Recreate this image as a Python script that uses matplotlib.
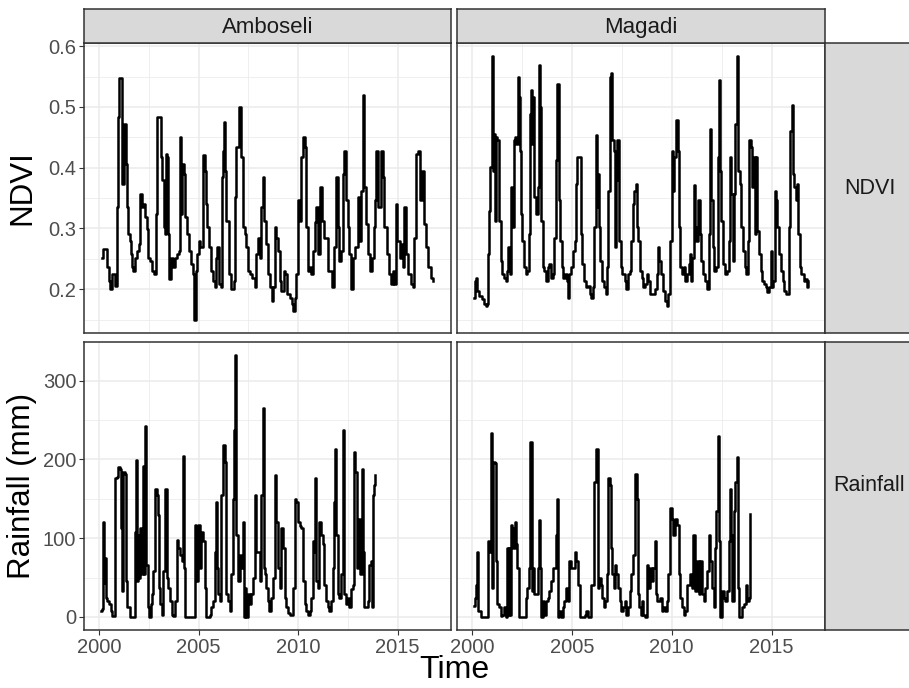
import matplotlib
matplotlib.use("Agg")
import matplotlib.pyplot as plt
import numpy as np
from matplotlib.ticker import FixedLocator

plt.rcParams['font.family'] = ['Liberation Sans', 'DejaVu Sans']

# ---------------------------------------------------------------- data
sites = ["Amboseli", "Magadi"]
variables = ["NDVI", "Rainfall"]
y_titles = ["NDVI", "Rainfall (mm)"]

x_ticks = [2000, 2005, 2010, 2015]
x_minor = [2002.5, 2007.5, 2012.5]
ndvi_ticks = [0.2, 0.3, 0.4, 0.5, 0.6]
ndvi_minor = [0.15, 0.25, 0.35, 0.45, 0.55]
rain_ticks = [0, 100, 200, 300]
rain_minor = [50, 150, 250]

amboseli_ndvi_time = [
    2000.13, 2000.18, 2000.35, 2000.42, 2000.52, 2000.55, 2000.63, 2000.80, 2000.89, 2000.94,
    2001.00, 2001.14, 2001.17, 2001.27, 2001.35, 2001.39, 2001.47, 2001.55, 2001.59, 2001.67,
    2001.72, 2001.80, 2001.92, 2002.02, 2002.05, 2002.14, 2002.22, 2002.30, 2002.39, 2002.47,
    2002.55, 2002.64, 2002.76, 2002.86, 2002.92, 2003.06, 2003.09, 2003.17, 2003.26, 2003.31,
    2003.36, 2003.42, 2003.46, 2003.52, 2003.59, 2003.72, 2003.81, 2003.92, 2004.01, 2004.06,
    2004.09, 2004.14, 2004.26, 2004.31, 2004.42, 2004.52, 2004.64, 2004.73, 2004.78, 2004.86,
    2004.94, 2005.03, 2005.09, 2005.23, 2005.31, 2005.36, 2005.43, 2005.53, 2005.64, 2005.73,
    2005.81, 2005.86, 2005.93, 2006.03, 2006.11, 2006.18, 2006.23, 2006.28, 2006.34, 2006.39,
    2006.51, 2006.64, 2006.76, 2006.85, 2006.90, 2007.01, 2007.10, 2007.15, 2007.23, 2007.31,
    2007.40, 2007.48, 2007.56, 2007.70, 2007.81, 2007.90, 2008.00, 2008.06, 2008.15, 2008.23,
    2008.28, 2008.36, 2008.48, 2008.60, 2008.68, 2008.73, 2008.82, 2008.90, 2008.98, 2009.07,
    2009.15, 2009.27, 2009.35, 2009.43, 2009.57, 2009.68, 2009.73, 2009.82, 2009.90, 2009.98,
    2010.07, 2010.15, 2010.23, 2010.32, 2010.40, 2010.48, 2010.57, 2010.65, 2010.74, 2010.84,
    2010.90, 2010.99, 2011.10, 2011.20, 2011.32, 2011.49, 2011.69, 2011.82, 2011.90, 2011.99,
    2012.07, 2012.15, 2012.24, 2012.32, 2012.40, 2012.49, 2012.57, 2012.65, 2012.74, 2012.87,
    2012.99, 2013.04, 2013.16, 2013.24, 2013.32, 2013.41, 2013.49, 2013.61, 2013.71, 2013.79,
    2013.86, 2013.91, 2013.99, 2014.16, 2014.24, 2014.32, 2014.44, 2014.57, 2014.66, 2014.74,
    2014.83, 2014.91, 2014.99, 2015.11, 2015.21, 2015.28, 2015.33, 2015.41, 2015.54, 2015.66,
    2015.78, 2015.83, 2015.91, 2016.03, 2016.11, 2016.24, 2016.33, 2016.44, 2016.54, 2016.66,
    2016.78,
]
amboseli_ndvi = [
    0.252, 0.266, 0.266, 0.236, 0.214, 0.200, 0.225, 0.206, 0.335, 0.483,
    0.547, 0.547, 0.373, 0.472, 0.406, 0.335, 0.291, 0.280, 0.258, 0.236,
    0.230, 0.252, 0.263, 0.274, 0.357, 0.335, 0.340, 0.318, 0.299, 0.252,
    0.247, 0.230, 0.225, 0.324, 0.483, 0.483, 0.417, 0.379, 0.302, 0.291,
    0.423, 0.417, 0.291, 0.217, 0.252, 0.236, 0.252, 0.258, 0.263, 0.450,
    0.324, 0.406, 0.390, 0.318, 0.291, 0.263, 0.241, 0.225, 0.150, 0.230,
    0.258, 0.280, 0.269, 0.420, 0.395, 0.340, 0.302, 0.269, 0.230, 0.214,
    0.203, 0.252, 0.269, 0.208, 0.203, 0.384, 0.428, 0.475, 0.395, 0.313,
    0.225, 0.200, 0.214, 0.351, 0.434, 0.500, 0.500, 0.417, 0.302, 0.291,
    0.269, 0.230, 0.225, 0.219, 0.203, 0.258, 0.285, 0.252, 0.335, 0.384,
    0.313, 0.274, 0.225, 0.203, 0.181, 0.203, 0.302, 0.285, 0.263, 0.214,
    0.197, 0.230, 0.225, 0.192, 0.186, 0.175, 0.164, 0.186, 0.225, 0.346,
    0.313, 0.417, 0.450, 0.434, 0.302, 0.230, 0.236, 0.225, 0.263, 0.310,
    0.335, 0.258, 0.368, 0.313, 0.285, 0.230, 0.203, 0.269, 0.384, 0.302,
    0.247, 0.263, 0.390, 0.428, 0.346, 0.302, 0.258, 0.200, 0.252, 0.269,
    0.351, 0.280, 0.362, 0.519, 0.368, 0.307, 0.258, 0.230, 0.252, 0.302,
    0.346, 0.428, 0.335, 0.428, 0.384, 0.302, 0.258, 0.225, 0.208, 0.230,
    0.208, 0.340, 0.280, 0.252, 0.274, 0.236, 0.335, 0.258, 0.225, 0.208,
    0.203, 0.285, 0.423, 0.428, 0.346, 0.395, 0.307, 0.269, 0.236, 0.219,
    0.214,
]

magadi_ndvi_time = [
    2000.08, 2000.13, 2000.20, 2000.25, 2000.34, 2000.47, 2000.59, 2000.67, 2000.76, 2000.81,
    2000.87, 2000.92, 2000.98, 2001.04, 2001.09, 2001.14, 2001.18, 2001.26, 2001.35, 2001.43,
    2001.51, 2001.60, 2001.68, 2001.77, 2001.82, 2001.88, 2001.93, 2002.02, 2002.10, 2002.15,
    2002.22, 2002.30, 2002.35, 2002.40, 2002.44, 2002.52, 2002.61, 2002.69, 2002.77, 2002.86,
    2002.91, 2002.96, 2002.99, 2003.06, 2003.11, 2003.19, 2003.28, 2003.33, 2003.40, 2003.45,
    2003.53, 2003.61, 2003.70, 2003.78, 2003.87, 2003.95, 2004.03, 2004.12, 2004.20, 2004.25,
    2004.34, 2004.40, 2004.49, 2004.57, 2004.66, 2004.74, 2004.82, 2004.87, 2004.96, 2005.04,
    2005.13, 2005.21, 2005.26, 2005.38, 2005.43, 2005.51, 2005.60, 2005.68, 2005.80, 2005.88,
    2005.97, 2006.05, 2006.13, 2006.22, 2006.25, 2006.30, 2006.35, 2006.42, 2006.50, 2006.59,
    2006.69, 2006.76, 2006.82, 2006.89, 2006.98, 2007.03, 2007.09, 2007.16, 2007.23, 2007.28,
    2007.36, 2007.45, 2007.53, 2007.65, 2007.73, 2007.82, 2007.90, 2007.98, 2008.07, 2008.13,
    2008.20, 2008.27, 2008.32, 2008.40, 2008.49, 2008.57, 2008.66, 2008.74, 2008.82, 2008.91,
    2009.08, 2009.16, 2009.24, 2009.29, 2009.36, 2009.45, 2009.55, 2009.66, 2009.75, 2009.83,
    2009.92, 2010.00, 2010.05, 2010.12, 2010.20, 2010.29, 2010.34, 2010.42, 2010.50, 2010.59,
    2010.67, 2010.76, 2010.84, 2010.92, 2010.98, 2011.04, 2011.13, 2011.18, 2011.23, 2011.31,
    2011.40, 2011.48, 2011.56, 2011.68, 2011.77, 2011.85, 2011.93, 2011.98, 2012.05, 2012.13,
    2012.24, 2012.30, 2012.35, 2012.40, 2012.47, 2012.57, 2012.69, 2012.77, 2012.86, 2012.94,
    2012.99, 2013.06, 2013.11, 2013.19, 2013.28, 2013.33, 2013.40, 2013.48, 2013.56, 2013.65,
    2013.73, 2013.82, 2013.87, 2013.95, 2014.00, 2014.07, 2014.15, 2014.20, 2014.29, 2014.37,
    2014.45, 2014.54, 2014.62, 2014.71, 2014.79, 2014.87, 2014.96, 2015.01, 2015.08, 2015.16,
    2015.23, 2015.29, 2015.38, 2015.46, 2015.55, 2015.63, 2015.71, 2015.80, 2015.85, 2015.93,
    2016.00, 2016.05, 2016.13, 2016.22, 2016.30, 2016.35, 2016.42, 2016.50, 2016.61, 2016.67,
    2016.76, 2016.84,
]
magadi_ndvi = [
    0.186, 0.214, 0.219, 0.197, 0.189, 0.183, 0.175, 0.172, 0.175, 0.258,
    0.329, 0.401, 0.583, 0.395, 0.456, 0.313, 0.450, 0.445, 0.313, 0.247,
    0.225, 0.219, 0.214, 0.230, 0.269, 0.225, 0.368, 0.302, 0.445, 0.450,
    0.439, 0.549, 0.516, 0.428, 0.324, 0.280, 0.236, 0.225, 0.230, 0.291,
    0.489, 0.527, 0.439, 0.516, 0.351, 0.324, 0.368, 0.569, 0.500, 0.313,
    0.236, 0.230, 0.214, 0.236, 0.241, 0.219, 0.225, 0.285, 0.412, 0.538,
    0.346, 0.280, 0.236, 0.219, 0.225, 0.214, 0.186, 0.225, 0.236, 0.263,
    0.280, 0.373, 0.417, 0.417, 0.291, 0.241, 0.214, 0.203, 0.206, 0.192,
    0.186, 0.203, 0.302, 0.453, 0.335, 0.390, 0.302, 0.247, 0.214, 0.203,
    0.192, 0.236, 0.362, 0.549, 0.555, 0.445, 0.428, 0.269, 0.379, 0.445,
    0.280, 0.236, 0.225, 0.214, 0.200, 0.225, 0.230, 0.280, 0.340, 0.362,
    0.373, 0.302, 0.280, 0.230, 0.219, 0.203, 0.208, 0.225, 0.214, 0.192,
    0.192, 0.200, 0.225, 0.269, 0.247, 0.225, 0.197, 0.181, 0.172, 0.192,
    0.280, 0.428, 0.362, 0.417, 0.478, 0.428, 0.302, 0.236, 0.225, 0.236,
    0.214, 0.225, 0.241, 0.258, 0.214, 0.252, 0.371, 0.302, 0.280, 0.346,
    0.291, 0.247, 0.225, 0.214, 0.200, 0.291, 0.464, 0.346, 0.269, 0.230,
    0.236, 0.417, 0.544, 0.395, 0.313, 0.241, 0.225, 0.230, 0.280, 0.417,
    0.357, 0.247, 0.357, 0.472, 0.583, 0.395, 0.373, 0.302, 0.263, 0.236,
    0.225, 0.280, 0.445, 0.434, 0.368, 0.417, 0.291, 0.417, 0.296, 0.258,
    0.230, 0.214, 0.208, 0.203, 0.195, 0.203, 0.263, 0.203, 0.214, 0.362,
    0.346, 0.302, 0.258, 0.230, 0.214, 0.197, 0.192, 0.192, 0.302, 0.461,
    0.503, 0.390, 0.368, 0.346, 0.373, 0.291, 0.236, 0.225, 0.214, 0.216,
    0.203, 0.214,
]

amboseli_rain_time = [
    2000.08, 2000.13, 2000.18, 2000.25, 2000.30, 2000.35, 2000.42, 2000.50, 2000.58, 2000.67,
    2000.75, 2000.80, 2000.89, 2000.97, 2001.05, 2001.09, 2001.14, 2001.22, 2001.30, 2001.35,
    2001.42, 2001.50, 2001.55, 2001.72, 2001.80, 2001.85, 2001.92, 2001.97, 2002.02, 2002.05,
    2002.14, 2002.19, 2002.25, 2002.30, 2002.35, 2002.44, 2002.50, 2002.59, 2002.64, 2002.72,
    2002.81, 2002.89, 2002.97, 2003.02, 2003.06, 2003.14, 2003.22, 2003.31, 2003.39, 2003.47,
    2003.56, 2003.64, 2003.72, 2003.81, 2003.89, 2003.97, 2004.06, 2004.14, 2004.22, 2004.27,
    2004.34, 2004.73, 2004.81, 2004.89, 2004.98, 2005.06, 2005.14, 2005.23, 2005.31, 2005.39,
    2005.56, 2005.64, 2005.73, 2005.81, 2005.86, 2005.93, 2005.98, 2006.06, 2006.14, 2006.23,
    2006.31, 2006.39, 2006.48, 2006.56, 2006.64, 2006.73, 2006.78, 2006.85, 2006.90, 2006.98,
    2007.06, 2007.15, 2007.23, 2007.28, 2007.35, 2007.40, 2007.48, 2007.56, 2007.65, 2007.73,
    2007.81, 2007.90, 2008.06, 2008.15, 2008.23, 2008.26, 2008.31, 2008.40, 2008.48, 2008.56,
    2008.65, 2008.73, 2008.82, 2008.90, 2008.98, 2009.07, 2009.15, 2009.23, 2009.32, 2009.40,
    2009.48, 2009.57, 2009.65, 2009.73, 2009.82, 2009.90, 2009.98, 2010.07, 2010.15, 2010.23,
    2010.32, 2010.40, 2010.48, 2010.57, 2010.65, 2010.74, 2010.79, 2010.85, 2010.90, 2010.99,
    2011.07, 2011.15, 2011.24, 2011.32, 2011.40, 2011.49, 2011.57, 2011.65, 2011.74, 2011.79,
    2011.85, 2011.90, 2011.99, 2012.07, 2012.15, 2012.24, 2012.32, 2012.40, 2012.49, 2012.57,
    2012.65, 2012.74, 2012.82, 2012.87, 2012.94, 2013.02, 2013.11, 2013.19, 2013.27, 2013.32,
    2013.41, 2013.49, 2013.57, 2013.64, 2013.71, 2013.74, 2013.81, 2013.87,
]
amboseli_rain = [
    7.6, 9.7, 121, 43, 75, 24, 20, 16, 7.6, 1.3,
    1.3, 176, 178, 190, 188, 113, 33, 184, 182, 45,
    12, 12, 0, 0, 108, 199, 45, 104, 50, 113,
    54, 192, 54, 243, 66, 12, 0, 16, 29, 58,
    163, 155, 129, 37, 16, 3, 58, 163, 50, 37,
    20, 3, 1, 20, 98, 87, 79, 71, 205, 62,
    0, 0, 117, 45, 117, 62, 108, 96, 37, 0,
    3, 12, 20, 83, 146, 62, 29, 20, 155, 218,
    197, 29, 20, 8, 54, 150, 237, 333, 104, 45,
    79, 62, 121, 0, 37, 0, 29, 16, 29, 50,
    155, 83, 45, 155, 266, 62, 54, 37, 20, 8,
    24, 50, 180, 121, 62, 37, 113, 87, 24, 12,
    5, 3, 3, 37, 150, 146, 121, 115, 113, 45,
    16, 8, 3, 8, 24, 96, 83, 176, 45, 37,
    121, 104, 92, 41, 20, 12, 8, 20, 62, 146,
    213, 104, 29, 24, 54, 237, 29, 16, 24, 12,
    35, 41, 209, 184, 62, 125, 54, 188, 83, 12,
    12, 20, 66, 71, 12, 155, 167, 180,
]

magadi_rain_time = [
    2000.08, 2000.12, 2000.17, 2000.22, 2000.27, 2000.34, 2000.42, 2000.76, 2000.81, 2000.87,
    2000.96, 2001.01, 2001.04, 2001.13, 2001.21, 2001.26, 2001.35, 2001.43, 2001.51, 2001.60,
    2001.68, 2001.77, 2001.82, 2001.85, 2001.90, 2001.95, 2002.02, 2002.07, 2002.13, 2002.19,
    2002.27, 2002.35, 2002.69, 2002.77, 2002.86, 2002.91, 2002.98, 2003.03, 2003.11, 2003.19,
    2003.28, 2003.33, 2003.40, 2003.45, 2003.53, 2003.61, 2003.70, 2003.78, 2003.87, 2003.95,
    2004.03, 2004.12, 2004.20, 2004.25, 2004.30, 2004.37, 2004.45, 2004.54, 2004.62, 2004.71,
    2004.79, 2004.87, 2004.96, 2005.04, 2005.13, 2005.21, 2005.29, 2005.38, 2005.63, 2005.71,
    2005.80, 2005.88, 2005.97, 2006.05, 2006.13, 2006.22, 2006.29, 2006.35, 2006.44, 2006.52,
    2006.59, 2006.67, 2006.76, 2006.81, 2006.89, 2006.98, 2007.03, 2007.09, 2007.18, 2007.23,
    2007.31, 2007.40, 2007.48, 2007.56, 2007.65, 2007.73, 2007.82, 2007.90, 2007.98, 2008.07,
    2008.15, 2008.24, 2008.29, 2008.35, 2008.44, 2008.49, 2008.57, 2008.66, 2008.74, 2008.82,
    2008.91, 2008.99, 2009.08, 2009.16, 2009.21, 2009.28, 2009.41, 2009.50, 2009.58, 2009.66,
    2009.75, 2009.83, 2009.92, 2010.00, 2010.08, 2010.17, 2010.25, 2010.34, 2010.42, 2010.50,
    2010.59, 2010.67, 2010.76, 2010.84, 2010.92, 2011.01, 2011.09, 2011.18, 2011.26, 2011.35,
    2011.43, 2011.51, 2011.60, 2011.68, 2011.77, 2011.85, 2011.93, 2012.02, 2012.10, 2012.19,
    2012.24, 2012.30, 2012.35, 2012.44, 2012.52, 2012.61, 2012.69, 2012.77, 2012.86, 2012.91,
    2012.98, 2013.04, 2013.11, 2013.19, 2013.28, 2013.33, 2013.38, 2013.48, 2013.53, 2013.61,
    2013.70, 2013.78, 2013.87, 2013.92,
]
magadi_rain = [
    14, 24, 41, 83, 8, 8, 0, 0, 96, 83,
    234, 37, 197, 195, 71, 16, 12, 1, 3, 12,
    0, 87, 3, 87, 3, 117, 113, 87, 121, 92,
    62, 0, 24, 37, 62, 222, 33, 62, 29, 29,
    62, 123, 62, 0, 20, 3, 20, 24, 33, 45,
    62, 62, 104, 150, 0, 8, 0, 12, 20, 37,
    20, 71, 62, 62, 83, 71, 41, 0, 3, 8,
    0, 0, 41, 41, 171, 213, 37, 50, 41, 24,
    12, 20, 54, 176, 167, 87, 54, 37, 66, 54,
    37, 20, 8, 12, 20, 3, 12, 33, 54, 79,
    182, 150, 29, 12, 3, 20, 3, 0, 66, 37,
    62, 45, 62, 96, 29, 20, 24, 8, 12, 8,
    20, 54, 138, 125, 104, 125, 117, 54, 24, 12,
    3, 8, 41, 41, 54, 37, 104, 33, 71, 29,
    71, 29, 20, 37, 58, 104, 71, 37, 12, 87,
    134, 230, 96, 0, 33, 24, 20, 33, 96, 163,
    104, 20, 134, 171, 203, 37, 0, 0, 12, 16,
    41, 20, 24, 131,
]

series = {
    ("NDVI", "Amboseli"): (amboseli_ndvi_time, amboseli_ndvi),
    ("NDVI", "Magadi"): (magadi_ndvi_time, magadi_ndvi),
    ("Rainfall", "Amboseli"): (amboseli_rain_time, amboseli_rain),
    ("Rainfall", "Magadi"): (magadi_rain_time, magadi_rain),
}

# ---------------------------------------------------------------- layout
W, H = 909, 688
fig = plt.figure(figsize=(W / 100, H / 100), dpi=100)
fig.patch.set_facecolor("white")

col_x = [(84, 451), (457, 825)]
row_y = [(43.3, 332.7), (341.7, 630)]
strip_top = 9.3
strip_right = 914

border = "#333333"
grid_major = "#EBEBEB"
strip_fill = "#D9D9D9"
tick_col = "#4D4D4D"


def rect(l, t, r, b):
    return [l / W, 1 - b / H, (r - l) / W, (b - t) / H]


def expand(lo, hi, frac=0.05):
    pad = (hi - lo) * frac
    return lo - pad, hi + pad


all_t = np.concatenate([np.asarray(v[0]) for v in series.values()])
xlim = expand(all_t.min(), all_t.max())
ylims = {
    "NDVI": expand(min(min(amboseli_ndvi), min(magadi_ndvi)),
                   max(max(amboseli_ndvi), max(magadi_ndvi))),
    "Rainfall": expand(min(min(amboseli_rain), min(magadi_rain)),
                       max(max(amboseli_rain), max(magadi_rain))),
}
yticks = {"NDVI": (ndvi_ticks, ndvi_minor), "Rainfall": (rain_ticks, rain_minor)}
ylabels = {"NDVI": [f"{v:.1f}" for v in ndvi_ticks],
           "Rainfall": [str(v) for v in rain_ticks]}

for ri, var in enumerate(variables):
    for ci, site in enumerate(sites):
        (l, r), (t, b) = col_x[ci], row_y[ri]
        ax = fig.add_axes(rect(l, t, r, b))
        tt, vv = series[(var, site)]
        ax.set_xlim(*xlim)
        ax.set_ylim(*ylims[var])
        major, minor = yticks[var]
        ax.xaxis.set_major_locator(FixedLocator(x_ticks))
        ax.xaxis.set_minor_locator(FixedLocator(x_minor))
        ax.yaxis.set_major_locator(FixedLocator(major))
        ax.yaxis.set_minor_locator(FixedLocator(minor))
        ax.grid(which="major", color=grid_major, lw=1.1, zorder=0)
        ax.grid(which="minor", color=grid_major, lw=0.55, zorder=0)
        ax.set_axisbelow(True)
        ax.step(tt, vv, where="post", color="black", lw=1.8, zorder=3)
        for s in ax.spines.values():
            s.set_color(border)
            s.set_linewidth(1.1)
            s.set_zorder(5)
        ax.tick_params(which="major", length=3.5, width=0.8, color=border,
                       labelcolor=tick_col, labelsize=14.5, pad=2)
        ax.tick_params(which="minor", length=0)
        if ri == 1:
            ax.set_xticklabels([str(v) for v in x_ticks])
        else:
            ax.tick_params(axis="x", which="major", length=0, labelbottom=False)
        if ci == 0:
            ax.set_yticklabels(ylabels[var])
        else:
            ax.tick_params(axis="y", which="major", length=0, labelleft=False)

        # column strip
        if ri == 0:
            sax = fig.add_axes(rect(l, strip_top, r, t))
            sax.set_facecolor(strip_fill)
            sax.set_xticks([]); sax.set_yticks([])
            for s in sax.spines.values():
                s.set_color(border); s.set_linewidth(1.1)
            sax.text(0.5, 0.47, site, ha="center", va="center", fontsize=16,
                     color="#1A1A1A", transform=sax.transAxes)

    # row strip
    t, b = row_y[ri]
    sax = fig.add_axes(rect(col_x[1][1], t, strip_right, b))
    sax.set_facecolor(strip_fill)
    sax.set_xticks([]); sax.set_yticks([])
    for s in sax.spines.values():
        s.set_color(border); s.set_linewidth(1.1)
    sax.text(0.5, 0.5, var, ha="center", va="center", fontsize=15.5,
             color="#1A1A1A", transform=sax.transAxes)

    # row axis title
    fig.text(22 / W, 1 - ((t + b) / 2) / H, y_titles[ri], rotation=90,
             ha="center", va="center", fontsize=22.5, color="black")

fig.text(454 / W, 1 - 670 / H, "Time", ha="center", va="center",
         fontsize=23, color="black")

fig.savefig("out.png", dpi=100, facecolor="white")
